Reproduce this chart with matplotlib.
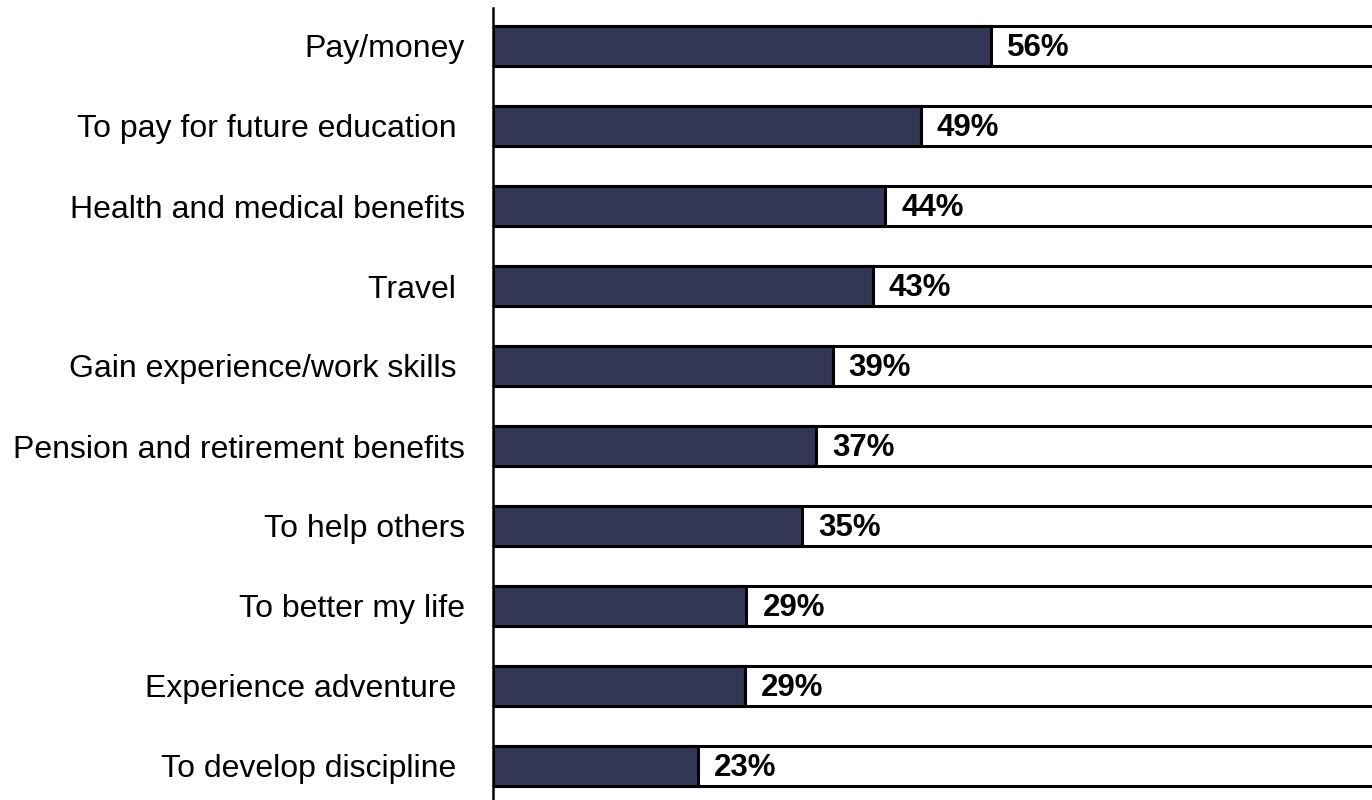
import matplotlib
matplotlib.use("Agg")
import matplotlib.pyplot as plt

categories = ["Pay/money", "To pay for future education ", "Health and medical benefits",
              "Travel ", "Gain experience/work skills ", "Pension and retirement benefits",
              "To help others", "To better my life", "Experience adventure ",
              "To develop discipline "]
# bar lengths as drawn (percent)
values = [56.0, 48.1, 44.1, 42.7, 38.2, 36.3, 34.8, 28.5, 28.3, 23.0]
# value labels as printed
labels = ["56%", "49%", "44%", "43%", "39%", "37%", "35%", "29%", "29%", "23%"]
total = [100] * len(values)

plt.rcParams['font.family'] = ['Liberation Sans', 'DejaVu Sans']

fig = plt.figure(figsize=(13.72, 8.0), dpi=100)
ax = fig.add_axes([493 / 1372, -4 / 800, 1 - 493 / 1372, 1 - 8 / 800 + 4 / 800])

pos = list(range(len(categories)))
ax.barh(pos, total, height=0.5, color="white", edgecolor="black", linewidth=2.2, zorder=1)
ax.barh(pos, values, height=0.5, color="#333654", edgecolor="black", linewidth=2.2, zorder=2)
for p, v, t in zip(pos, values, labels):
    ax.text(v + 1.8, p + 0.02, t, va="center", ha="left", fontsize=22.5, fontweight="bold", zorder=3)

ax.set_xlim(0, 98.85)
ax.set_ylim(len(categories) - 0.525, -0.475)
ax.set_yticks(pos)
ax.set_yticklabels(categories, fontsize=23)
ax.tick_params(axis="y", length=0, pad=20)
ax.set_xticks([])
for s in ["top", "right", "bottom"]:
    ax.spines[s].set_visible(False)
ax.spines["left"].set_linewidth(1.8)

fig.savefig("out.png", dpi=100)
